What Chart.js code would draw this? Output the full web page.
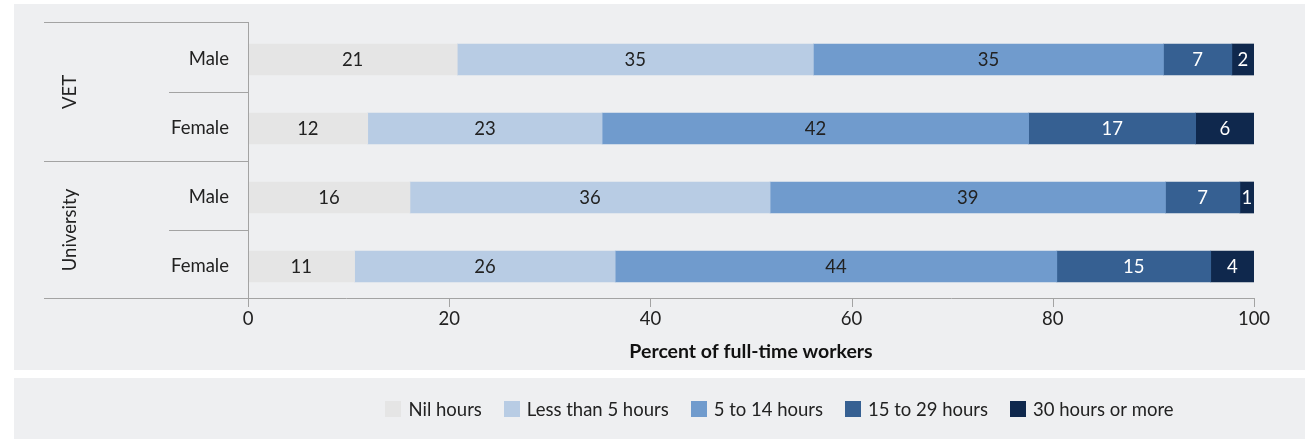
<!DOCTYPE html>
<html>
<head>
<meta charset="utf-8">
<script src="https://cdn.jsdelivr.net/npm/chart.js@4.4.1/dist/chart.umd.min.js"></script>
<style>
  html, body { margin: 0; padding: 0; background: #ffffff; }
  #wrap { width: 1305px; height: 440px; position: relative; }
</style>
</head>
<body>
<div id="wrap"><canvas id="c" width="1305" height="440"></canvas></div>
<script>
// ---- Data ----
const categories = ['Male', 'Female', 'Male', 'Female'];
const groups = ['VET', 'University'];          // each group spans two categories
const seriesNames = ['Nil hours', 'Less than 5 hours', '5 to 14 hours', '15 to 29 hours', '30 hours or more'];
const nilHours      = [20.8, 11.9, 16.1, 10.6];
const lessThan5     = [35.4, 23.3, 35.8, 25.9];
const fiveTo14      = [34.8, 42.4, 39.3, 43.9];
const fifteenTo29   = [6.8, 16.6, 7.4, 15.3];
const thirtyOrMore  = [2.2, 5.8, 1.4, 4.3];
const xTicks = [0, 20, 40, 60, 80, 100];
const axisTitle = 'Percent of full-time workers';

const seriesValues = [nilHours, lessThan5, fiveTo14, fifteenTo29, thirtyOrMore];
const colors = ['#e5e5e5', '#b8cce4', '#709bcd', '#366092', '#0f284d'];
const labelColors = ['#222222', '#222222', '#222222', '#ffffff', '#ffffff'];

const FONT = 'Lato, "Open Sans", sans-serif';
const FS = 18.5;
const LINE = '#a3a3a3';
const PANEL = '#eeeff1';

const bgPlugin = {
  id: 'panels',
  beforeDraw(chart) {
    const ctx = chart.ctx;
    ctx.save();
    ctx.fillStyle = '#ffffff';
    ctx.fillRect(0, 0, chart.width, chart.height);
    ctx.fillStyle = PANEL;
    ctx.fillRect(14, 4, chart.width - 14, 366);
    ctx.fillRect(14, 378, chart.width - 14, 61);
    ctx.restore();
  }
};

const tablePlugin = {
  id: 'tableLines',
  afterDraw(chart) {
    const ctx = chart.ctx;
    const area = chart.chartArea;
    const xs = chart.scales.x;
    const n = categories.length;
    const band = (area.bottom - area.top) / n;
    const topLine = area.top - 3;
    const bottomLine = area.bottom - 3;
    ctx.save();
    ctx.strokeStyle = LINE;
    ctx.lineWidth = 1;
    const hline = (x0, x1, yy) => {
      const py = Math.round(yy) + 0.5;
      ctx.beginPath(); ctx.moveTo(x0, py); ctx.lineTo(x1, py); ctx.stroke();
    };
    const vline = (xx, y0, y1) => {
      const px = Math.round(xx) + 0.5;
      ctx.beginPath(); ctx.moveTo(px, y0); ctx.lineTo(px, y1); ctx.stroke();
    };
    hline(44, area.left, topLine);
    for (let i = 1; i < n; i++) {
      const yy = area.top + band * i - 2;
      if (i % 2 === 0) hline(44, area.left, yy);
      else hline(169, area.left, yy);
    }
    hline(44, area.right, bottomLine);
    vline(area.left, topLine, bottomLine);
    xTicks.forEach(v => {
      vline(xs.getPixelForValue(v), bottomLine, bottomLine + 9);
    });

    // group labels
    ctx.fillStyle = '#222222';
    ctx.font = FS + 'px ' + FONT;
    ctx.textAlign = 'center';
    ctx.textBaseline = 'middle';
    groups.forEach((g, gi) => {
      const cy = area.top + band * (gi * 2 + 1) - 2;
      ctx.save();
      ctx.translate(70, cy);
      ctx.rotate(-Math.PI / 2);
      ctx.fillText(g, 0, 0);
      ctx.restore();
    });

    // data labels
    ctx.font = FS + 'px ' + FONT;
    chart.data.datasets.forEach((ds, di) => {
      const meta = chart.getDatasetMeta(di);
      meta.data.forEach((bar, i) => {
        const v = ds.data[i];
        const cx = (bar.x + bar.base) / 2;
        ctx.fillStyle = labelColors[di];
        ctx.fillText(String(Math.round(v)), cx, bar.y + 1);
      });
    });

    // legend
    ctx.font = FS + 'px ' + FONT;
    ctx.textAlign = 'left';
    const box = 16, gapBT = 7, gapItem = 22;
    const widths = seriesNames.map(s => ctx.measureText(s).width);
    let total = 0;
    widths.forEach((w, i) => { total += box + gapBT + w + (i < widths.length - 1 ? gapItem : 0); });
    let lx = 779.5 - total / 2;
    const ly = 409;
    seriesNames.forEach((s, i) => {
      ctx.fillStyle = colors[i];
      ctx.fillRect(Math.round(lx), ly - 8, box, box);
      ctx.fillStyle = '#222222';
      ctx.fillText(s, lx + box + gapBT, ly + 1);
      lx += box + gapBT + widths[i] + gapItem;
    });
    ctx.restore();
  }
};

new Chart(document.getElementById('c'), {
  type: 'bar',
  data: {
    labels: categories,
    datasets: seriesNames.map((name, i) => ({
      label: name,
      data: seriesValues[i],
      backgroundColor: colors[i],
      borderWidth: 0,
      barThickness: 31
    }))
  },
  options: {
    indexAxis: 'y',
    responsive: false,
    animation: false,
    devicePixelRatio: 1,
    layout: { padding: { left: 0, right: 51, top: 25, bottom: 0 } },
    plugins: {
      legend: { display: false },
      tooltip: { enabled: false }
    },
    scales: {
      x: {
        stacked: true,
        min: 0,
        max: 100,
        afterBuildTicks(scale) { scale.ticks = xTicks.map(v => ({ value: v })); },
        afterFit(scale) { scale.height = 139; scale.paddingLeft = 0; scale.paddingRight = 0; },
        ticks: { color: '#222222', font: { family: FONT, size: FS }, padding: 7, maxRotation: 0 },
        grid: { display: false, drawTicks: false },
        border: { display: false },
        title: {
          display: true,
          text: axisTitle,
          color: '#111111',
          font: { family: FONT, size: 19.5, weight: 'bold' },
          padding: { top: 0, bottom: 77 }
        }
      },
      y: {
        stacked: true,
        afterFit(scale) { scale.width = 248; scale.paddingTop = 0; scale.paddingBottom = 0; },
        ticks: { color: '#222222', font: { family: FONT, size: FS }, padding: 19 },
        grid: { display: false, drawTicks: false },
        border: { display: false }
      }
    }
  },
  plugins: [bgPlugin, tablePlugin]
});
</script>
</body>
</html>
